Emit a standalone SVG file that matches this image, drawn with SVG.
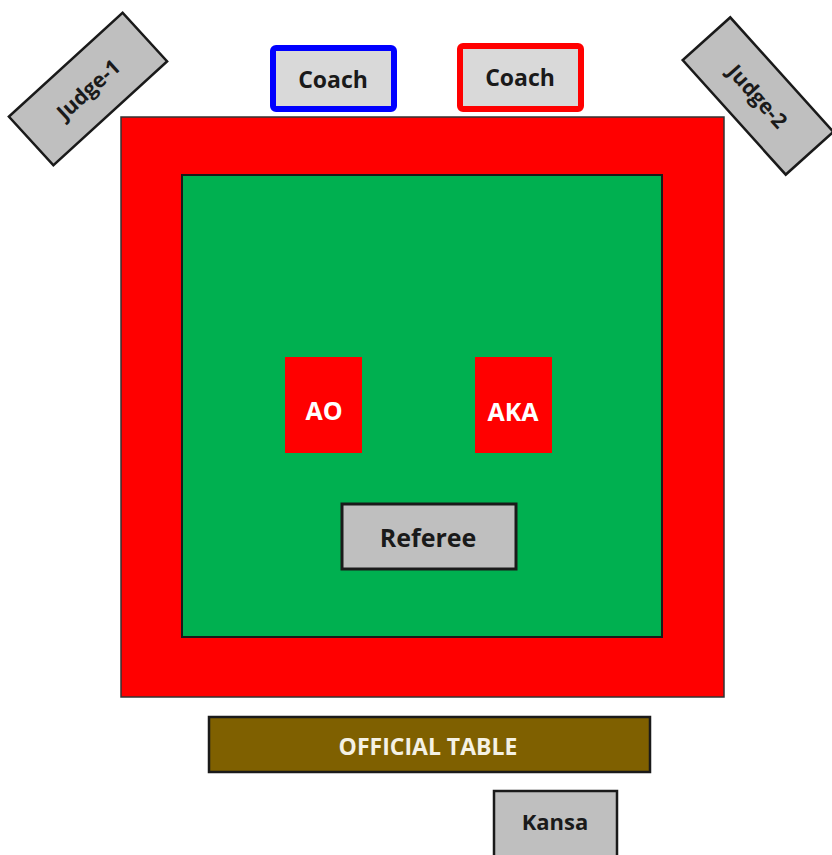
<svg xmlns="http://www.w3.org/2000/svg" width="832" height="855" viewBox="0 0 832 855">
<style>
.box{fill:#bfbfbf;stroke:#1a1a1a;stroke-width:2.5}
.lbl{font-family:"Open Sans","Liberation Sans",sans-serif;font-weight:bold;fill:#1a1a1a;text-anchor:middle;dominant-baseline:central}
.wl{font-family:"Open Sans","Liberation Sans",sans-serif;font-weight:bold;fill:#ffffff;text-anchor:middle;dominant-baseline:central}
</style>
<rect width="832" height="855" fill="#ffffff"/>
<g id="mat-outer"><rect x="121" y="117" width="603" height="580" fill="#ff0000" stroke="#333" stroke-width="1.5"/></g>
<g id="mat-inner"><rect x="182" y="175" width="480" height="462" fill="#00b050" stroke="#1a1a1a" stroke-width="2"/></g>
<g id="judge1" transform="translate(88,89) rotate(-42.4)">
<rect class="box" x="-77" y="-33" width="154" height="66"/>
<text class="lbl" x="0" y="0" font-size="21">Judge-1</text>
</g>
<g id="judge2" transform="translate(758,96) rotate(48)">
<rect class="box" x="-77" y="-32" width="154" height="64"/>
<text class="lbl" x="0" y="0" font-size="21">Judge-2</text>
</g>
<g id="coach-blue">
<rect x="273" y="48" width="121" height="61" rx="3" fill="#d9d9d9" stroke="#0000ff" stroke-width="6"/>
<text class="lbl" x="333" y="79" font-size="23">Coach</text>
</g>
<g id="coach-red">
<rect x="460" y="46" width="121" height="63" rx="3" fill="#d9d9d9" stroke="#ff0000" stroke-width="6"/>
<text class="lbl" x="520" y="77" font-size="23">Coach</text>
</g>
<g id="ao">
<rect x="285" y="357" width="77" height="96" fill="#ff0000"/>
<text class="wl" x="324" y="410" font-size="25">AO</text>
</g>
<g id="aka">
<rect x="475" y="357" width="77" height="96" fill="#ff0000"/>
<text class="wl" x="513" y="411" font-size="25">AKA</text>
</g>
<g id="referee">
<rect x="342" y="504" width="174" height="65" fill="#bfbfbf" stroke="#1a1a1a" stroke-width="3"/>
<text class="lbl" x="428" y="537" font-size="25">Referee</text>
</g>
<g id="official-table">
<rect x="209" y="717" width="441" height="55" fill="#7f6000" stroke="#1a1a1a" stroke-width="2.5"/>
<text class="wl" x="428" y="746" font-size="23" style="fill:#f4f1e4">OFFICIAL TABLE</text>
</g>
<g id="kansa">
<rect x="494" y="791" width="123" height="70" fill="#bfbfbf" stroke="#1a1a1a" stroke-width="2.5"/>
<text class="lbl" x="555" y="821" font-size="22">Kansa</text>
</g>
<g id="connectors"></g>
</svg>
